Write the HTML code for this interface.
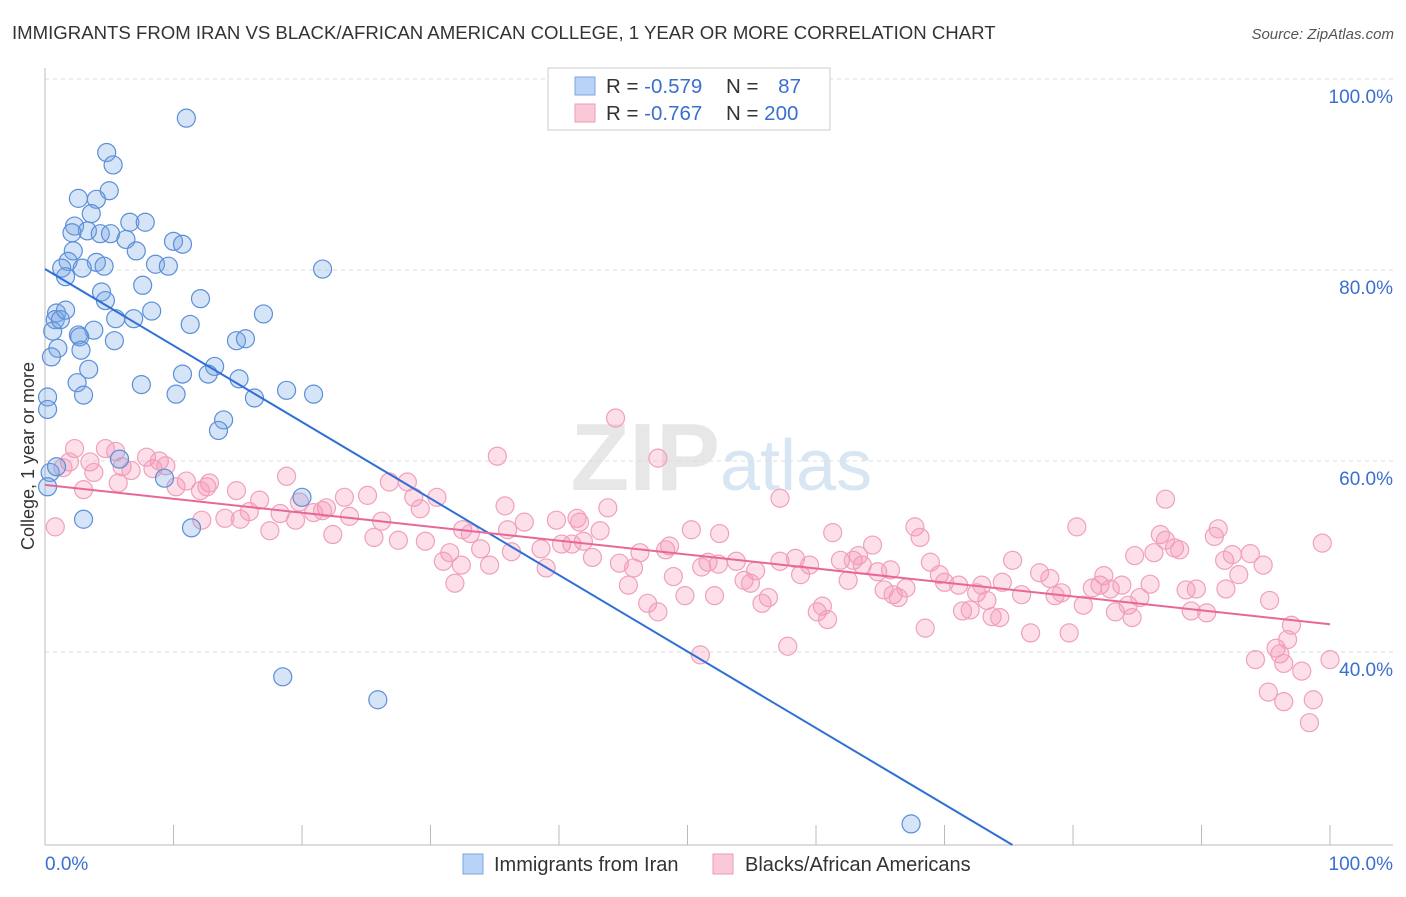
<!DOCTYPE html>
<html><head><meta charset="utf-8">
<style>
body{margin:0;background:#fff;font-family:"Liberation Sans",sans-serif;}
svg text{font-family:"Liberation Sans",sans-serif;}
</style></head>
<body>
<svg id="chart" width="1406" height="892" viewBox="0 0 1406 892" xmlns="http://www.w3.org/2000/svg">
<text x="12" y="39" font-size="18.6" fill="#333">IMMIGRANTS FROM IRAN VS BLACK/AFRICAN AMERICAN COLLEGE, 1 YEAR OR MORE CORRELATION CHART</text>
<text x="1394" y="39" font-size="15" fill="#555" font-style="italic" text-anchor="end">Source: ZipAtlas.com</text>
<text x="720" y="490" font-size="96" text-anchor="end" fill="#ddd" font-family="Liberation Serif" font-weight="bold" opacity="0.7">ZIP</text>
<text x="720" y="490" font-size="72" fill="#cfe0f2" opacity="0.8">atlas</text>
<g id="grid"></g>
<g id="axes"></g>
<g id="points"></g>
<g id="lines"></g>
<text transform="translate(34,456) rotate(-90)" font-size="18" fill="#333" text-anchor="middle">College, 1 year or more</text>
<g>
<rect x="548" y="68" width="282" height="62" fill="#fff" stroke="#ccc"/>
<rect x="575" y="77" width="20" height="18" fill="#b8d3f5" stroke="#7aa7e0"/>
<rect x="575" y="104" width="20" height="18" fill="#f9c9d8" stroke="#ef9ab5"/>
<text x="606" y="93" font-size="20.5" fill="#333">R = <tspan fill="#3a6fd0">-0.579</tspan></text>
<text x="726" y="93" font-size="20.5" fill="#333">N = <tspan fill="#3a6fd0" dx="14">87</tspan></text>
<text x="606" y="120" font-size="20.5" fill="#333">R = <tspan fill="#3a6fd0">-0.767</tspan></text>
<text x="726" y="120" font-size="20.5" fill="#333">N = <tspan fill="#3a6fd0">200</tspan></text>
</g>
<g>
<rect x="463" y="854" width="20" height="20" fill="#b8d3f5" stroke="#7aa7e0"/>
<text x="494" y="871" font-size="20" fill="#333">Immigrants from Iran</text>
<rect x="713" y="854" width="20" height="20" fill="#f9c9d8" stroke="#ef9ab5"/>
<text x="745" y="871" font-size="20" fill="#333">Blacks/African Americans</text>
</g>
</svg>
<script>
const yTicks=[100,80,60,40];
const yTickLabels=["100.0%","80.0%","60.0%","40.0%"];
const xEndLabels=["0.0%","100.0%"];
const blueX=[11.0,4.8,5.3,2.6,5.0,4.0,3.6,2.3,6.6,7.8,3.3,2.1,4.3,5.1,6.3,10.0,10.7,2.2,7.1,1.8,4.0,4.6,8.6,9.6,1.3,2.9,1.6,21.6,7.6,4.4,12.1,4.7,0.9,8.3,17.0,5.5,6.9,0.8,11.3,0.6,3.8,2.6,2.7,5.4,14.9,15.6,1.0,2.8,0.5,3.4,13.2,10.7,12.7,15.1,2.5,7.5,10.2,18.8,20.9,3.0,16.3,0.2,0.2,13.9,13.5,0.4,5.8,20.0,9.3,11.4,3.0,18.5,25.9,67.4,0.9,0.2,1.2,1.6];
const blueY=[95.9,92.3,91.0,87.5,88.3,87.4,85.9,84.6,85.0,85.0,84.1,83.9,83.8,83.8,83.2,83.0,82.7,82.0,82.0,80.9,80.8,80.4,80.6,80.4,80.2,80.2,79.3,80.1,78.4,77.7,77.0,76.8,75.5,75.7,75.4,74.9,74.9,74.8,74.3,73.6,73.7,73.2,73.0,72.6,72.6,72.8,71.8,71.6,70.9,69.6,69.9,69.1,69.1,68.6,68.2,68.0,67.0,67.4,67.0,66.9,66.6,66.7,65.4,64.3,63.2,58.8,60.2,56.2,58.2,53.0,53.9,37.4,35.0,22.0,59.4,57.3,74.8,75.8];
const pinkX=[44.4,35.2,47.7,2.3,4.7,1.9,3.5,5.5,7.9,8.9,1.4,3.8,6.0,6.7,8.4,9.4,11.0,10.2,12.8,12.6,14.9,16.7,18.8,19.8,21.9,23.3,25.1,26.8,28.2,28.7,30.5,29.2,35.8,43.8,57.2,87.2,0.8,3.0,5.7,12.1,12.2,14.0,15.2,15.9,17.5,18.3,19.5,20.9,21.6,22.4,23.7,25.6,26.2,27.5,29.6,31.5,32.5,33.1,33.9,34.6,32.4,31.0,31.9,36.0,36.3,37.3,38.6,39.0,39.8,40.2,41.0,41.4,41.6,43.2,41.9,42.6,44.7,45.4,45.8,46.3,46.9,47.7,48.3,48.6,48.9,49.8,50.3,51.1,51.6,52.5,52.4,53.8,54.4,54.9,55.8,56.3,55.3,57.2,58.4,58.8,59.5,60.1,60.5,60.9,61.3,61.9,62.5,62.9,63.3,63.6,64.4,64.8,65.3,66.0,66.4,67.0,67.7,68.1,68.5,68.9,69.6,70.0,71.1,71.4,72.0,72.5,72.9,73.3,73.7,74.3,75.3,76.0,76.7,77.4,78.2,78.6,79.1,79.7,80.3,80.8,81.5,82.1,82.4,82.9,83.3,83.8,84.3,84.6,84.8,85.2,86.0,86.3,86.8,87.2,87.9,88.3,88.8,89.2,89.6,90.4,91.0,91.3,91.8,92.4,92.9,93.8,94.2,94.8,95.3,95.8,96.1,96.4,96.7,97.0,95.2,96.4,97.8,98.7,98.4,99.4,100.0,91.9,74.5,65.8,51.0,57.8,52.1];
const pinkY=[64.5,60.5,60.3,61.3,61.3,59.9,59.9,61.0,60.4,60.0,59.3,58.8,59.4,59.0,59.2,59.5,57.9,57.3,57.7,57.3,56.9,55.9,58.4,55.7,55.1,56.2,56.4,57.8,57.8,56.2,56.2,55.0,55.3,55.1,56.1,56.0,53.1,57.0,57.7,56.9,53.8,54.0,53.9,54.7,52.7,54.5,53.8,54.6,54.8,52.3,54.2,52.0,53.7,51.7,51.6,50.4,52.8,52.4,50.8,49.1,49.1,49.5,47.2,52.8,50.5,53.6,50.8,48.8,53.8,51.3,51.3,54.0,53.6,52.7,51.6,49.9,49.3,47.0,48.8,50.4,45.1,44.2,50.7,51.1,47.9,45.9,52.8,48.9,49.4,52.4,49.2,49.5,47.5,47.2,45.1,45.7,48.5,49.5,49.8,48.1,49.1,44.2,44.8,43.4,52.5,49.6,47.5,49.6,50.1,49.1,51.2,48.4,46.5,46.0,45.7,46.7,53.1,52.0,42.5,49.4,48.1,47.3,47.0,44.3,44.4,46.2,47.0,45.4,43.7,43.6,49.6,46.0,42.0,48.3,47.7,45.9,46.2,42.0,53.1,44.9,46.7,47.0,48.0,46.6,44.2,47.0,44.9,43.6,50.1,45.7,47.1,50.4,52.3,51.7,50.9,50.7,46.5,44.3,46.6,44.1,52.1,52.9,49.6,50.2,48.1,50.3,39.2,49.1,45.4,40.4,39.8,38.8,41.3,42.8,35.8,34.8,38.0,35.0,32.6,51.4,39.2,46.6,47.3,48.6,39.7,40.6,45.9];
const blueFit=[80.1,-0.801];
const pinkFit=[57.5,-0.146];

const NS="http://www.w3.org/2000/svg";
const X0=45,X1=1330,YB=845;
function xs(v){return X0+(X1-X0)*v/100;}
function ys(v){return 79+(100-v)*9.55;}
function mk(tag,attrs,parent){const e=document.createElementNS(NS,tag);for(const k in attrs)e.setAttribute(k,attrs[k]);parent.appendChild(e);return e;}
const grid=document.getElementById('grid'),axes=document.getElementById('axes'),pts=document.getElementById('points'),lines=document.getElementById('lines');
yTicks.forEach((t,i)=>{
  const l=mk('line',{x1:X0,x2:1393,y1:ys(t),y2:ys(t),stroke:'#ddd','stroke-dasharray':'4,4'},grid);
  
  
  const tx=mk('text',{x:1393,y:ys(t)+24,'font-size':19,fill:'#3a6fd0','text-anchor':'end'},axes);
  tx.textContent=yTickLabels[i];
  
  
});
const ya=mk('line',{x1:X0,x2:X0,y1:68,y2:YB,stroke:'#bbb'},axes);


const xa=mk('line',{x1:X0,x2:1393,y1:YB,y2:YB,stroke:'#bbb'},axes);


for(let i=0;i<=10;i++){
  const tk=mk('line',{x1:xs(i*10),x2:xs(i*10),y1:YB-20,y2:YB,stroke:'#bbb'},axes);
  
  
}
[[0,'start',45],[100,'end',1393]].forEach((d,i)=>{
  const t=mk('text',{x:d[2],y:870,'font-size':19,fill:'#3a6fd0','text-anchor':d[1]},axes);
  t.textContent=xEndLabels[i];
  
  
});
pinkX.forEach((v,i)=>{
  const c=mk('circle',{cx:xs(v),cy:ys(pinkY[i]),r:9,fill:'rgba(244,150,182,0.3)',stroke:'#f0a0bb','stroke-width':1.2},pts);
  
  
});
blueX.forEach((v,i)=>{
  const c=mk('circle',{cx:xs(v),cy:ys(blueY[i]),r:9,fill:'rgba(120,165,230,0.3)',stroke:'#5b8fd8','stroke-width':1.2},pts);
  
  
});
const bEnd=(19.8-blueFit[0])/blueFit[1];
const bl=mk('line',{x1:xs(0),y1:ys(blueFit[0]),x2:xs(bEnd),y2:ys(blueFit[0]+blueFit[1]*bEnd),stroke:'#2f6fd6','stroke-width':2},lines);


const pl=mk('line',{x1:xs(0),y1:ys(pinkFit[0]),x2:xs(100),y2:ys(pinkFit[0]+pinkFit[1]*100),stroke:'#e8679a','stroke-width':2},lines);


</script>
</body></html>
